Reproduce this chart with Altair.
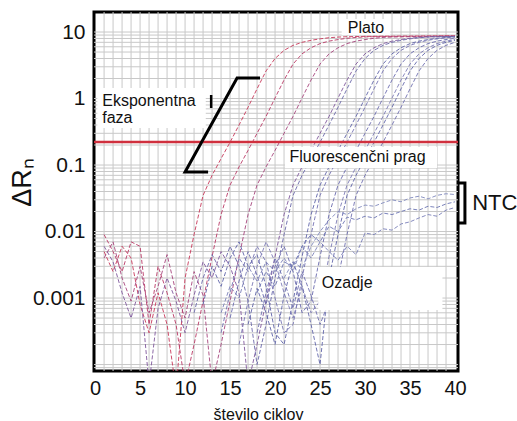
import altair as alt
import pandas as pd

# ---------------- data ----------------
threshold = 0.222

# amplification curves (first cycle, values per cycle)
curve_a_start = 1
curve_a = [0.005, 0.0025, 0.006, 0.004, 0.0008, 0.0003, 0.0012, 0.0004, 0.00004, 0.002,
           0.009, 0.035, 0.07, 0.125, 0.22, 0.40, 0.74, 1.4, 2.6, 4.0,
           5.3, 6.3, 7.0, 7.5, 7.9, 8.2, 8.4, 8.5, 8.55, 8.6,
           8.6, 8.65, 8.65, 8.7, 8.7, 8.7, 8.75, 8.75, 8.8, 8.8]
curve_b_start = 1
curve_b = [0.009, 0.005, 0.0025, 0.007, 0.006, 0.0004, 0.003, 0.0012, 0.0004, 0.00005,
           0.0002, 0.0009, 0.0042, 0.018, 0.05, 0.094, 0.166, 0.30, 0.54, 1.02,
           1.9, 3.3, 4.7, 5.8, 6.7, 7.3, 7.7, 8.05, 8.3, 8.45,
           8.5, 8.55, 8.6, 8.6, 8.6, 8.65, 8.65, 8.7, 8.7, 8.7]
curve_c_start = 1
curve_c = [0.004, 0.007, 0.002, 0.0009, 0.003, 0.0006, 0.0015, 0.0045, 0.0012, 0.0005,
           0.0025, 0.0011, 0.00005, 0.0002, 0.0009, 0.0042, 0.018, 0.05, 0.094, 0.166,
           0.30, 0.54, 1.02, 1.9, 3.3, 4.7, 5.8, 6.7, 7.3, 7.7,
           8.05, 8.3, 8.4, 8.45, 8.5, 8.5, 8.55, 8.55, 8.6, 8.6]
curve_d_start = 1
curve_d = [0.006, 0.0035, 0.0012, 0.0005, 0.0015, 0.00005, 0.0007, 0.002, 0.0009, 0.0003,
           0.0011, 0.0035, 0.002, 0.005, 0.003, 0.0012, 0.00005, 0.0002, 0.0009, 0.0042,
           0.018, 0.05, 0.094, 0.166, 0.30, 0.54, 1.02, 1.9, 3.3, 4.7,
           5.8, 6.7, 7.3, 7.7, 8.05, 8.3, 8.45, 8.5, 8.55, 8.6]
curve_e_start = 11
curve_e = [0.0006, 0.002, 0.0045, 0.0025, 0.006, 0.003, 0.0009, 0.0001, 0.0004, 0.002,
           0.009, 0.035, 0.07, 0.125, 0.22, 0.40, 0.74, 1.4, 2.6, 4.0,
           5.3, 6.3, 7.0, 7.5, 7.9, 8.2, 8.4, 8.5, 8.55, 8.6]
curve_f_start = 12
curve_f = [0.0008, 0.003, 0.0015, 0.004, 0.007, 0.003, 0.0045, 0.0015, 0.0003, 0.0002,
           0.0009, 0.0042, 0.018, 0.05, 0.094, 0.166, 0.30, 0.54, 1.02, 1.9,
           3.3, 4.7, 5.8, 6.7, 7.3, 7.7, 8.05, 8.3, 8.45]
curve_g_start = 14
curve_g = [0.0003, 0.0012, 0.004, 0.0025, 0.006, 0.0035, 0.001, 0.0003, 0.0004, 0.002,
           0.009, 0.035, 0.07, 0.125, 0.22, 0.40, 0.74, 1.4, 2.6, 4.0,
           5.3, 6.3, 7.0, 7.5, 7.9, 8.2, 8.4]
curve_h_start = 15
curve_h = [0.0005, 0.0018, 0.005, 0.0022, 0.0008, 0.003, 0.006, 0.0025, 0.0006, 0.0009,
           0.0042, 0.018, 0.05, 0.094, 0.166, 0.30, 0.54, 1.02, 1.9, 3.3,
           4.7, 5.8, 6.7, 7.3, 7.7, 8.05]
curve_i_start = 16
curve_i = [0.0002, 0.0009, 0.003, 0.007, 0.0035, 0.0012, 0.0005, 0.0015, 0.0006, 0.0009,
           0.0042, 0.018, 0.05, 0.094, 0.166, 0.30, 0.54, 1.02, 1.9, 3.3,
           4.7, 5.8, 6.7, 7.3, 7.7]
curve_j_start = 17
curve_j = [0.0004, 0.0014, 0.0006, 0.0002, 0.0011, 0.0035, 0.0015, 0.0004, 0.0001, 0.002,
           0.009, 0.035, 0.07, 0.125, 0.22, 0.40, 0.74, 1.4, 2.6, 4.0,
           5.3, 6.3, 7.0, 7.5]
curve_k_start = 18
curve_k = [0.0003, 0.0012, 0.004, 0.0018, 0.0007, 0.0025, 0.0011, 0.0004, 0.0009, 0.002,
           0.009, 0.035, 0.07, 0.125, 0.22, 0.40, 0.74, 1.4, 2.6, 4.0,
           5.3, 6.3, 7.0]

# no-template controls
ntc_1_start = 14
ntc_1 = [0.0006, 0.0015, 0.001, 0.003, 0.0018, 0.0035, 0.0025, 0.004, 0.0025, 0.006,
         0.004, 0.007, 0.005, 0.0037, 0.006, 0.0045, 0.0095, 0.009, 0.011, 0.0105,
         0.013, 0.014, 0.016, 0.018, 0.017, 0.021, 0.023]
ntc_2_start = 18
ntc_2 = [0.0012, 0.0025, 0.0015, 0.0035, 0.003, 0.006, 0.009, 0.007, 0.012, 0.01,
         0.0165, 0.015, 0.017, 0.016, 0.019, 0.018, 0.02, 0.022, 0.021, 0.024,
         0.023, 0.026, 0.028]
ntc_3_start = 21
ntc_3 = [0.002, 0.0035, 0.0028, 0.006, 0.01, 0.015, 0.02, 0.018, 0.022, 0.025,
         0.024, 0.027, 0.03, 0.028, 0.032, 0.034, 0.031, 0.035, 0.037, 0.036]

series_names = ["A", "B", "C", "D", "E", "F", "G", "H", "I", "J", "K", "N1", "N2", "N3"]
series_colors = ["#c8385a", "#b93a66", "#a6457c", "#80589c", "#6a68aa", "#5f64a8",
                 "#7472b2", "#6a6aae", "#7c7ab6", "#6266aa", "#7070b0",
                 "#7a80b8", "#6c74b2", "#8088bc"]
series_data = [(curve_a_start, curve_a), (curve_b_start, curve_b), (curve_c_start, curve_c),
               (curve_d_start, curve_d), (curve_e_start, curve_e), (curve_f_start, curve_f),
               (curve_g_start, curve_g), (curve_h_start, curve_h), (curve_i_start, curve_i),
               (curve_j_start, curve_j), (curve_k_start, curve_k),
               (ntc_1_start, ntc_1), (ntc_2_start, ntc_2), (ntc_3_start, ntc_3)]

x_ticks = [0, 5, 10, 15, 20, 25, 30, 35, 40]
y_ticks = [10, 1, 0.1, 0.01, 0.001]
x_grid = list(range(1, 40))
y_grid = [2, 3, 4, 5, 6, 7, 8, 9, 10,
          0.2, 0.3, 0.4, 0.5, 0.6, 0.7, 0.8, 0.9, 1,
          0.02, 0.03, 0.04, 0.05, 0.06, 0.07, 0.08, 0.09, 0.1,
          0.002, 0.003, 0.004, 0.005, 0.006, 0.007, 0.008, 0.009, 0.01,
          0.0002, 0.0003, 0.0004, 0.0005, 0.0006, 0.0007, 0.0008, 0.0009, 0.001,
          0.0001, 0.00009]

# ---------------- build tables ----------------
rows = []
for name, (start, vals) in zip(series_names, series_data):
    for i, v in enumerate(vals):
        rows.append({"series": name, "cycle": start + i, "value": v})
curves_df = pd.DataFrame(rows)

xs = alt.Scale(domain=[-0.12, 40.33], nice=False, zero=False)
ys = alt.Scale(type="log", domain=[8e-5, 20], nice=False)

FONT = "Liberation Sans"
GRID = "#c8c8c8"

vgrid = alt.Chart(pd.DataFrame({"cycle": x_grid})).mark_rule(
    color=GRID, strokeWidth=1
).encode(
    x=alt.X("cycle:Q", scale=xs,
            axis=alt.Axis(values=x_ticks, grid=False, ticks=False, domain=False,
                          labelFontSize=20, labelColor="#111", labelPadding=7,
                          labelFont=FONT, labelOverlap=False,
                          title="število ciklov", titleFontSize=16,
                          titleFontWeight="normal", titleFont=FONT, titleColor="#111",
                          titleX=164, titleY=43, titleAlign="center",
                          titleBaseline="middle"))
)
hgrid = alt.Chart(pd.DataFrame({"value": y_grid})).mark_rule(
    color=GRID, strokeWidth=1
).encode(
    y=alt.Y("value:Q", scale=ys,
            axis=alt.Axis(values=y_ticks, grid=False, ticks=False, domain=False,
                          format="~g", labelFontSize=21, labelColor="#111",
                          labelPadding=9, labelFont=FONT, labelOverlap=False,
                          title="ΔRₙ", titleFontSize=27, titleFontWeight="normal",
                          titleFont=FONT, titleColor="#111", titleAngle=270,
                          titleX=-72, titleY=170, titleAlign="center",
                          titleBaseline="middle"))
)

curves = alt.Chart(curves_df).mark_line(
    strokeWidth=1, strokeDash=[4, 2], clip=True, opacity=0.9
).encode(
    x=alt.X("cycle:Q", scale=xs),
    y=alt.Y("value:Q", scale=ys),
    color=alt.Color("series:N", scale=alt.Scale(domain=series_names, range=series_colors),
                    legend=None),
    detail="series:N",
)

thr_df = pd.DataFrame({"value": [threshold]})
thr = alt.Chart(thr_df).mark_rule(color="#d0303e", strokeWidth=2.6).encode(
    y=alt.Y("value:Q", scale=ys)
)

# white label backgrounds
box_x = [27.4, 0.25, 21.1, 24.8]
box_x2 = [32.8, 12.3, 38.0, 38.6]
box_y = [9.0, 0.36, 0.090, 0.00066]
box_y2 = [15.7, 1.44, 0.187, 0.00292]
boxes_df = pd.DataFrame({"cycle": box_x, "cycle2": box_x2, "value": box_y, "value2": box_y2})
boxes = alt.Chart(boxes_df).mark_rect(fill="white").encode(
    x=alt.X("cycle:Q", scale=xs), x2="cycle2:Q",
    y=alt.Y("value:Q", scale=ys), y2="value2:Q",
)

# exponential-phase bracket
brk_x = [12.56, 10.0, 15.78, 18.33]
brk_y = [0.0785, 0.0785, 2.03, 2.03]
brk_df = pd.DataFrame({"cycle": brk_x, "value": brk_y, "o": [0, 1, 2, 3]})
bracket = alt.Chart(brk_df).mark_line(color="black", strokeWidth=3, strokeJoin="miter").encode(
    x=alt.X("cycle:Q", scale=xs), y=alt.Y("value:Q", scale=ys), order="o:Q"
)
bar_df = pd.DataFrame({"cycle": [12.9], "value": [0.72], "value2": [1.13]})
bar = alt.Chart(bar_df).mark_rule(color="black", strokeWidth=2.5).encode(
    x=alt.X("cycle:Q", scale=xs), y=alt.Y("value:Q", scale=ys), y2="value2:Q"
)

# NTC bracket (outside plot)
ntc_x = [40.33, 41.1, 41.1, 40.33]
ntc_y = [0.0536, 0.0536, 0.0134, 0.0134]
ntcb_df = pd.DataFrame({"cycle": ntc_x, "value": ntc_y, "o": [0, 1, 2, 3]})
ntc_bracket = alt.Chart(ntcb_df).mark_line(color="black", strokeWidth=3, clip=False,
                                           strokeJoin="miter").encode(
    x=alt.X("cycle:Q", scale=xs), y=alt.Y("value:Q", scale=ys), order="o:Q"
)

# annotation texts
ann_text = ["Plato", "Eksponentna", "faza", "Fluorescenčni prag", "Ozadje"]
ann_x = [30.1, 0.8, 0.8, 21.6, 25.2]
ann_y = [11.5, 0.917, 0.509, 0.132, 0.00168]
ann_align = ["center", "left", "left", "left", "left"]
ann_df = pd.DataFrame({"t": ann_text, "cycle": ann_x, "value": ann_y, "a": ann_align})
texts_center = alt.Chart(ann_df[ann_df.a == "center"]).mark_text(
    font=FONT, fontSize=16, align="center", baseline="middle", color="#111"
).encode(x=alt.X("cycle:Q", scale=xs), y=alt.Y("value:Q", scale=ys), text="t:N")
texts_left = alt.Chart(ann_df[ann_df.a == "left"]).mark_text(
    font=FONT, fontSize=16, align="left", baseline="middle", color="#111"
).encode(x=alt.X("cycle:Q", scale=xs), y=alt.Y("value:Q", scale=ys), text="t:N")

ntc_lbl_df = pd.DataFrame({"t": ["NTC"], "cycle": [41.9], "value": [0.0268]})
ntc_label = alt.Chart(ntc_lbl_df).mark_text(
    font=FONT, fontSize=22, align="left", baseline="middle", color="#111"
).encode(x=alt.X("cycle:Q", scale=xs), y=alt.Y("value:Q", scale=ys), text="t:N")

chart = alt.layer(
    vgrid, hgrid, curves, thr, boxes, bracket, bar, ntc_bracket,
    texts_center, texts_left, ntc_label
).properties(
    width=364, height=359,
    autosize=alt.AutoSizeParams(type="none"),
    padding={"left": 94, "top": 12, "right": 59, "bottom": 50},
    background="white",
).configure_view(
    stroke="black", strokeWidth=3, fill="white"
)

chart.save("out.html", embed_options={"renderer": "svg", "actions": False})
